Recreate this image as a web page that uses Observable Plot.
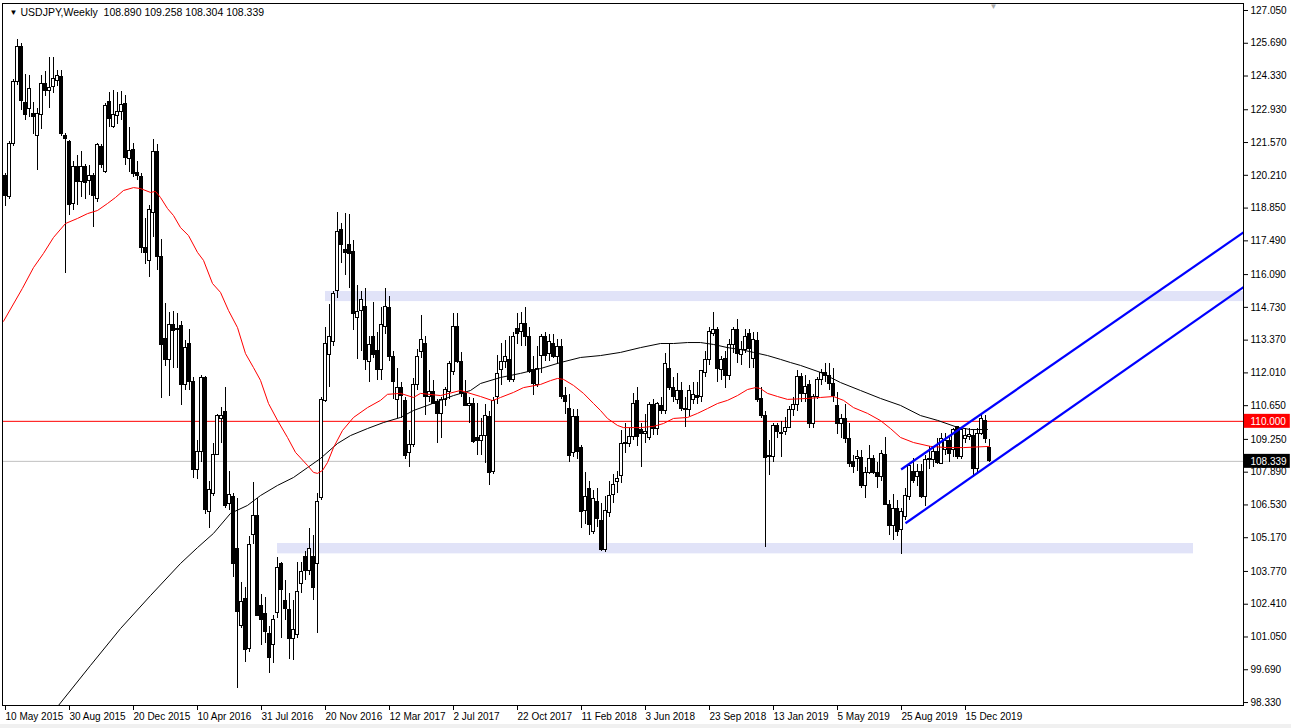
<!DOCTYPE html>
<html><head><meta charset="utf-8">
<script src="https://cdn.jsdelivr.net/npm/d3@7"></script>
<script src="https://cdn.jsdelivr.net/npm/@observablehq/plot@0.6"></script>
<style>
html,body{margin:0;padding:0;background:#f0f0f0;}
#chart{width:1291px;height:724px;background:#fff;}
svg{display:block}
</style></head><body><div id="chart"></div>
<script>
// ---- Weekly USDJPY candles, week 0 = 10 May 2015 ----
const symbol = "USDJPY", timeframe = "Weekly";
const opens = [120.20,119.30,121.50,124.10,125.55,123.20,122.95,122.75,121.86,122.70,124.00,123.72,123.87,124.12,124.28,121.86,121.60,119.00,120.55,119.93,120.55,119.99,120.20,119.23,121.38,120.34,123.25,122.21,122.69,122.83,123.15,120.90,121.24,120.30,120.16,117.20,116.67,118.64,121.16,116.81,113.40,112.55,113.98,113.85,113.94,111.49,113.19,111.63,107.96,108.72,111.80,106.23,107.00,108.62,110.10,110.38,106.55,106.85,104.71,101.50,102.63,100.56,105.30,106.09,102.32,102.00,101.18,100.73,102.04,104.10,102.56,102.15,100.97,101.15,103.26,104.36,103.78,104.39,104.06,106.83,110.86,112.77,113.29,115.40,117.95,117.09,117.30,117.02,114.30,114.57,114.76,112.46,113.52,112.91,112.14,113.91,114.71,112.66,110.89,111.39,110.86,108.68,109.00,111.49,112.87,113.22,111.00,111.21,110.80,110.31,110.89,111.21,112.04,113.91,112.46,111.14,110.62,110.73,109.30,109.20,109.40,110.20,107.90,111.03,112.11,112.46,112.55,111.70,113.84,113.70,114.05,113.49,112.11,111.50,112.73,113.49,112.80,113.22,112.66,113.08,111.07,110.52,108.68,110.17,108.89,106.27,107.20,105.40,106.65,105.88,104.64,106.19,106.96,107.48,107.75,109.04,109.07,109.34,110.86,109.62,109.48,109.31,110.66,109.69,110.62,110.42,112.18,111.39,110.89,111.25,110.52,110.45,110.90,111.07,111.03,112.00,112.55,113.62,113.80,112.14,112.59,111.90,113.15,113.80,112.77,112.97,113.63,112.59,113.35,110.93,110.24,108.51,108.51,109.79,109.48,109.55,109.73,110.45,110.66,111.83,111.14,111.49,109.90,111.00,111.70,112.00,111.90,111.56,110.62,109.90,110.10,109.27,108.30,108.44,108.49,107.30,107.85,108.44,107.85,107.71,108.62,106.51,105.64,106.37,105.47,106.05,106.85,107.89,107.68,107.89,106.88,108.40,108.40,108.72,108.24,108.79,109.20,108.79,109.76,108.51,109.27,109.34,109.41,108.03,109.48,110.03,108.890];
const highs = [120.30,121.60,124.20,125.86,125.70,124.40,124.35,123.25,122.97,124.35,124.50,125.10,125.10,124.58,124.56,121.95,121.65,120.80,121.03,121.20,120.65,120.60,120.27,121.52,121.49,123.18,123.66,123.73,123.66,123.70,123.52,122.20,121.54,120.80,120.30,118.40,118.96,121.70,121.49,117.55,114.90,114.53,114.57,114.49,114.14,113.35,113.80,111.80,109.20,111.90,111.88,107.50,109.10,110.30,110.59,111.40,107.90,107.00,106.80,103.30,103.10,105.20,107.48,106.78,102.80,102.70,101.50,101.94,104.36,104.16,103.40,102.84,102.57,104.15,104.15,104.60,105.54,105.26,106.99,111.00,113.90,114.83,115.40,118.68,118.22,118.61,118.60,117.50,115.64,115.40,115.50,113.50,114.95,113.70,114.74,115.50,115.20,112.90,112.20,111.60,111.00,109.60,111.78,113.00,114.39,113.50,112.10,111.70,110.90,111.00,111.40,112.50,114.46,114.49,112.87,111.70,111.00,110.95,110.73,110.10,110.70,110.40,111.00,112.72,113.25,113.36,113.50,113.70,114.46,114.50,114.73,113.90,112.70,113.10,113.60,113.70,113.60,113.60,113.40,113.40,111.40,111.10,110.50,110.50,109.00,107.89,107.50,107.13,107.20,106.60,106.90,107.50,107.78,107.90,109.62,109.90,109.70,111.14,111.42,109.90,110.27,110.80,110.90,110.80,111.00,112.80,113.22,111.80,112.00,111.60,111.00,111.50,111.60,111.60,112.10,112.90,113.90,114.53,113.90,112.70,112.90,113.40,113.90,114.21,113.30,113.80,113.80,113.70,113.70,111.40,110.40,109.20,109.89,109.90,110.00,110.16,110.60,111.00,112.11,112.00,111.90,111.70,111.10,111.80,112.17,112.39,112.39,112.20,111.20,110.30,110.70,109.90,108.60,108.80,108.80,108.10,108.99,108.60,108.30,108.80,109.31,106.70,106.98,106.70,106.40,107.20,108.26,108.47,108.20,108.20,108.60,108.94,108.90,109.30,109.48,109.50,109.40,109.70,109.80,109.70,109.70,109.70,109.60,109.70,110.31,110.24,109.258];
const lows = [118.90,119.20,121.40,123.95,122.90,122.50,122.60,121.90,120.41,122.10,123.50,122.97,123.60,123.90,121.80,116.12,118.54,118.75,118.96,119.30,119.20,119.37,118.06,119.10,120.48,120.30,122.20,122.14,122.30,122.50,120.62,120.34,120.10,120.00,116.95,116.50,115.98,117.64,116.26,110.96,112.28,111.04,112.18,112.18,110.66,111.30,111.30,107.61,107.60,108.30,106.14,105.54,106.90,108.60,109.10,106.40,106.30,103.53,98.90,101.40,100.00,100.40,104.90,101.90,100.70,100.77,99.52,99.94,101.80,101.00,101.73,100.10,100.07,101.00,102.84,103.40,103.60,102.57,101.18,106.72,110.80,111.40,113.10,115.10,116.54,116.05,115.50,113.77,112.57,112.90,112.10,111.60,112.60,111.70,111.70,113.60,112.50,110.90,110.10,110.10,108.40,108.10,108.90,111.30,112.60,110.23,110.80,110.70,109.10,109.30,110.60,110.90,111.90,112.40,111.00,110.60,109.90,109.10,108.60,108.60,108.27,107.32,107.80,110.70,111.50,112.20,111.60,111.60,113.20,113.10,113.10,112.00,111.07,111.40,112.00,112.50,112.50,112.60,112.40,110.90,110.30,108.30,108.50,108.40,105.54,105.70,105.26,105.30,105.60,104.60,104.56,106.00,106.60,107.00,107.40,108.65,108.90,109.20,108.95,108.10,109.10,109.20,109.40,109.40,110.30,110.30,111.30,110.80,110.70,110.40,109.76,110.20,110.70,110.70,110.80,111.80,112.30,113.50,111.63,111.70,111.38,111.70,112.80,112.40,112.30,112.80,112.20,112.20,110.80,110.10,104.78,107.75,108.30,109.30,108.50,109.40,109.70,110.20,110.40,110.80,110.80,109.70,109.70,110.90,111.50,111.60,111.30,110.80,109.47,109.30,109.10,108.10,107.85,107.90,107.20,106.80,107.80,107.80,107.20,107.50,106.50,105.26,105.05,105.20,104.46,105.90,106.70,107.40,107.30,106.80,106.48,108.00,108.10,108.20,108.20,108.60,108.30,108.50,108.40,108.40,109.10,109.20,107.65,107.80,109.40,109.10,108.304];
const closes = [119.35,121.50,124.10,125.55,123.30,122.70,123.80,122.65,122.76,124.00,123.70,123.85,124.22,124.32,121.93,121.72,118.96,120.57,119.93,120.57,119.90,120.20,119.37,121.45,120.62,123.07,122.55,122.73,122.83,123.11,120.94,121.20,120.27,120.20,117.20,116.99,118.75,121.16,116.81,113.18,112.55,113.98,113.74,113.78,111.49,113.05,111.63,107.99,108.72,111.79,106.30,107.13,108.62,110.24,110.24,106.47,106.96,104.09,102.08,102.50,100.49,104.85,106.09,101.94,101.76,101.25,100.17,101.76,103.92,103.00,102.22,100.97,101.32,102.91,103.74,103.78,104.71,103.09,106.65,110.89,113.22,113.49,115.29,117.85,117.30,116.98,116.95,114.46,114.53,115.04,112.55,113.15,112.76,112.14,113.98,114.74,112.69,111.63,111.38,111.07,108.58,109.02,111.49,112.66,113.36,111.00,111.21,110.73,110.30,110.89,111.28,112.39,113.91,112.46,111.14,110.62,110.70,109.14,109.20,109.40,110.24,107.84,110.86,111.97,112.46,112.66,111.72,113.49,113.63,114.05,113.49,112.04,111.55,112.18,113.49,112.73,113.29,112.66,113.08,111.00,110.80,108.58,110.17,108.72,106.23,106.85,105.68,106.78,105.95,104.64,106.26,106.92,107.34,107.61,109.04,109.10,109.34,110.73,109.34,109.48,109.55,110.66,109.69,110.70,110.42,112.36,111.39,111.00,111.25,110.52,110.45,111.25,111.10,110.98,112.08,112.55,113.70,113.78,112.18,112.53,111.90,113.15,113.77,112.80,112.97,113.49,113.01,113.38,110.87,110.24,108.49,108.55,109.79,109.55,109.50,109.73,110.45,110.66,111.83,111.14,111.42,109.90,111.00,111.70,112.00,111.90,111.56,111.07,109.90,110.10,109.27,108.24,108.10,108.54,107.30,107.85,108.44,107.85,107.71,108.65,106.51,105.64,106.37,105.40,106.23,106.92,108.13,107.52,107.89,106.88,108.40,108.42,108.72,108.26,109.27,109.20,108.65,109.62,108.54,109.62,109.41,109.45,108.03,109.48,110.10,109.27,108.339];

// ---- time axis labels (every 16 weeks) ----
const tickWeeks = [0,16,32,48,64,80,96,112,128,144,160,176,192,208,224,240];
const tickLabels = ["10 May 2015","30 Aug 2015","20 Dec 2015","10 Apr 2016","31 Jul 2016","20 Nov 2016","12 Mar 2017","2 Jul 2017","22 Oct 2017","11 Feb 2018","3 Jun 2018","23 Sep 2018","13 Jan 2019","5 May 2019","25 Aug 2019","15 Dec 2019"];
const priceTicks = [127.05,125.69,124.33,122.93,121.57,120.21,118.85,117.49,116.09,114.73,113.37,112.01,110.65,109.25,107.89,106.53,105.17,103.77,102.41,101.05,99.69,98.33];

// ---- moving averages (week index, price) ----
const maFastWeek = [-0.5,4.2,7,9.5,12,15,18,20.5,23,25.5,27.5,29.5,32,33.75,36.25,37.5,38.75,40.5,42,43.75,45.75,48,49.5,51.75,53.75,55.75,58,60,62,63.75,65.75,68,70.5,72.5,75.5,77,78,79.25,80.5,82,84.25,87,90.5,93.75,95.5,98.75,102,103.75,108.75,113.75,118.75,121.75,123.75,127,129.5,133.75,136.25,138,139.5,142,144.5,147,148.75,150.5,153,154.5,158.75,162,164.5,167,170.5,173,175.5,178,180.5,183,185.5,187.5,188.75,190.5,193,195.5,200.5,203.75,207,209.5,212,215.5,218.75,221.25,223.75,227,231.25,235.5,239.5,246];
const maFastValue = [114.15,115.51,116.38,116.97,117.63,118.21,118.42,118.62,118.75,119.04,119.29,119.58,119.70,119.66,119.50,119.54,119.29,118.83,118.54,118.04,117.71,117.01,116.68,115.72,115.35,114.60,113.89,112.81,112.23,111.70,110.74,110.04,109.33,108.71,108.17,107.88,107.84,107.96,108.29,108.91,109.62,110.16,110.57,110.87,111.12,111.16,110.99,111.16,111.07,111.28,111.03,110.86,110.99,111.20,111.40,111.53,111.69,111.78,111.74,111.49,111.16,110.74,110.45,110.12,109.83,109.74,109.74,109.79,109.91,110.12,110.16,110.33,110.53,110.74,110.87,111.07,111.32,111.40,111.36,111.16,111.03,110.91,110.95,110.99,111.03,110.87,110.57,110.33,110.03,109.70,109.33,109.12,108.96,108.91,108.91,108.96];
const maSlowWeek = [13.25,21.25,28.75,36.25,43.75,48,52,56.25,60.5,63.75,68,72,75.5,78.75,83,86.25,90.5,94.5,98.75,102,105.5,108.75,112,116.25,118.75,123.75,128.75,133.75,138.75,143.75,148.75,153.75,158.75,163.75,167,170.5,173.75,177,180.5,183.75,187,190.5,193.75,196.25,198.75,203.75,208.75,213.75,218.75,223.75,228.75,233,238,241.25,245.5];
const maSlowValue = [98.21,99.87,101.40,102.77,104.10,104.76,105.35,106.18,106.51,106.92,107.34,107.67,108.08,108.46,109.08,109.41,109.70,109.95,110.16,110.45,110.66,110.87,111.07,111.28,111.57,111.82,111.99,112.19,112.44,112.65,112.73,112.86,113.06,113.23,113.23,113.27,113.27,113.19,113.06,112.98,112.86,112.73,112.57,112.44,112.32,112.03,111.61,111.28,110.95,110.66,110.24,110.04,109.75,109.66,109.66];

// ---- drawn objects ----
const zoneStart = [80, 68], zoneEnd = [309.5, 297], zoneLow = [114.97, 104.50], zoneHigh = [115.39, 104.93];
const channelStartWeek = [223.9, 225], channelStartPrice = [108.00, 105.77];
const channelEndWeek = [309.5, 309.5], channelEndPrice = [117.84, 115.57];
const levelLine = 110.000;
const lastWeek = opens.length - 1;
const lastPrice = closes[lastWeek];

const candles = opens.map((o, i) => ({i, o, h: highs[i], l: lows[i], c: closes[i], up: closes[i] >= o}));
const maFast = maFastWeek.map((w, k) => ({w, v: maFastValue[k]}));
const maSlow = maSlowWeek.map((w, k) => ({w, v: maSlowValue[k]}));
const zones = zoneStart.map((s, k) => ({s, e: zoneEnd[k], lo: zoneLow[k], hi: zoneHigh[k]}));
const channel = channelStartWeek.map((w, k) => ({x1: w, y1: channelStartPrice[k], x2: channelEndWeek[k], y2: channelEndPrice[k]}));
const xMax = 309.5, xBoxEnd = 321.2;
const boxes = [{p: levelLine, fill: "#ff0000"}, {p: lastPrice, fill: "#000000"}];
const header = `${symbol},${timeframe}\u00A0\u00A0${opens[lastWeek].toFixed(3)} ${highs[lastWeek].toFixed(3)} ${lows[lastWeek].toFixed(3)} ${closes[lastWeek].toFixed(3)}`;

const chart = Plot.plot({
  width: 1291, height: 724,
  marginLeft: 2, marginTop: 3, marginRight: 48, marginBottom: 19,
  x: {type: "linear", domain: [-0.75, xMax], axis: null},
  y: {type: "linear", domain: [98.207, 127.34], axis: null},
  style: {fontFamily: "'Liberation Sans', Arial, sans-serif", fontSize: "10px", background: "#fff", overflow: "visible"},
  marks: [
    Plot.rect(zones, {x1: "s", x2: "e", y1: "lo", y2: "hi", fill: "#e1e3f8"}),
    Plot.ruleY([lastPrice], {stroke: "#c0c0c0", strokeWidth: 1}),
    Plot.ruleY([levelLine], {stroke: "#ff0000", strokeWidth: 1}),
    Plot.ruleX(candles, {x: "i", y1: "l", y2: "h", stroke: "#000", strokeWidth: 1, shapeRendering: "crispEdges"}),
    Plot.rect(candles, {x1: d => d.i - 0.3, x2: d => d.i + 0.3, y1: "o", y2: "c", fill: d => d.up ? "#fff" : "#000", stroke: "#000", strokeWidth: 1, shapeRendering: "crispEdges"}),
    Plot.line(maSlow, {x: "w", y: "v", stroke: "#000", strokeWidth: 1, clip: true}),
    Plot.line(maFast, {x: "w", y: "v", stroke: "#ff0000", strokeWidth: 1, clip: true}),
    Plot.link(channel, {x1: "x1", y1: "y1", x2: "x2", y2: "y2", stroke: "#0000ff", strokeWidth: 2.2}),
    Plot.frame({stroke: "#000"}),
    Plot.axisX({ticks: tickWeeks, tickFormat: d => tickLabels[tickWeeks.indexOf(d)], textAnchor: "start", tickSize: 5, tickPadding: 2, dx: 0, fill: "#000"}),
    Plot.axisY({anchor: "right", ticks: priceTicks, tickFormat: d => d.toFixed(3), tickSize: 4, tickPadding: 3, fill: "#000"}),
    Plot.rect(boxes, {x1: xMax + 0.2, x2: xBoxEnd, y1: d => d.p - 0.29, y2: d => d.p + 0.29, fill: d => d.fill}),
    Plot.text(boxes, {x: xMax, y: "p", text: d => d.p.toFixed(3), textAnchor: "start", dx: 7, fill: "#fff"}),
    Plot.text(["\u25BC"], {frameAnchor: "top-left", dx: 7, dy: 6, lineAnchor: "top", fontSize: 8, fill: "#000"}),
    Plot.text([header], {frameAnchor: "top-left", dx: 18, dy: 5, lineAnchor: "top", textAnchor: "start", fontSize: 10.5, fill: "#000"}),
    Plot.text([lastWeek + 1], {x: d => d, frameAnchor: "top", dy: 0, lineAnchor: "top", fontSize: 8, fill: "#a8a8a8", text: () => "\u25BC"})
  ]
});
document.getElementById("chart").appendChild(chart);
</script>
</body></html>
